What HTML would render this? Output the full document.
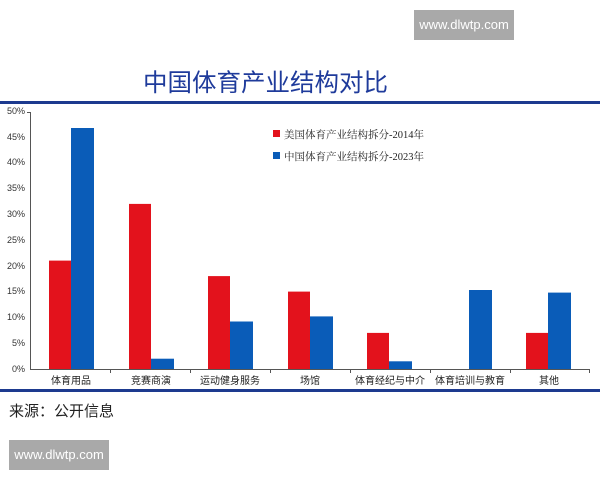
<!DOCTYPE html>
<html><head><meta charset="utf-8"><style>
body{margin:0;width:600px;height:480px;background:#fff;position:relative;overflow:hidden;font-family:"Liberation Sans","Noto Sans CJK SC",sans-serif}
.wm{position:absolute;background:#a9a9a9;color:#fff;font-size:13px;width:100px;height:30px;line-height:30px;text-align:center}
</style></head><body>
<div class="wm" style="left:414px;top:10px">www.dlwtp.com</div>
<div class="wm" style="left:9px;top:440px">www.dlwtp.com</div>
<div style="position:absolute;left:143px;top:64px;font-size:24.5px;color:#1f3b9b;white-space:nowrap">中国体育产业结构对比</div>
<div style="position:absolute;left:0;width:600px;top:101px;height:3px;background:#1d3a8f"></div>
<div style="position:absolute;left:0;width:600px;top:389px;height:3px;background:#1d3a8f"></div>
<div style="position:absolute;left:9px;top:400px;font-size:15px;color:#222">来源：公开信息</div>
<svg style="position:absolute;left:0;top:0" width="600" height="480" font-family="Liberation Sans,Noto Sans CJK SC,sans-serif">
<g font-size="9" fill="#333" text-anchor="end">
<text x="25" y="372">0%</text><text x="25" y="346">5%</text><text x="25" y="320">10%</text><text x="25" y="294">15%</text><text x="25" y="269">20%</text><text x="25" y="243">25%</text><text x="25" y="217">30%</text><text x="25" y="191">35%</text><text x="25" y="165">40%</text><text x="25" y="140">45%</text><text x="25" y="114">50%</text>
</g>
<g stroke="#555" stroke-width="1">
<line x1="30.5" y1="112" x2="30.5" y2="369"/><line x1="27" y1="112.5" x2="30" y2="112.5"/>
<line x1="30" y1="369.5" x2="590" y2="369.5"/>
<line x1="110.5" y1="369" x2="110.5" y2="373"/><line x1="190.5" y1="369" x2="190.5" y2="373"/><line x1="270.5" y1="369" x2="270.5" y2="373"/><line x1="350.5" y1="369" x2="350.5" y2="373"/><line x1="430.5" y1="369" x2="430.5" y2="373"/><line x1="510.5" y1="369" x2="510.5" y2="373"/><line x1="589.5" y1="369" x2="589.5" y2="373"/>
</g>
<g fill="#e3121c">
<rect x="49" y="260.6" width="22" height="108.4"/>
<rect x="129" y="203.9" width="22" height="165.1"/>
<rect x="208" y="276.1" width="22" height="92.9"/>
<rect x="288" y="291.6" width="22" height="77.4"/>
<rect x="367" y="332.9" width="22" height="36.1"/>
<rect x="526" y="332.9" width="22" height="36.1"/>
</g>
<g fill="#0a5cb8">
<rect x="71" y="128" width="23" height="241"/>
<rect x="151" y="358.7" width="23" height="10.3"/>
<rect x="230" y="321.5" width="23" height="47.5"/>
<rect x="310" y="316.4" width="23" height="52.6"/>
<rect x="389" y="361.3" width="23" height="7.7"/>
<rect x="469" y="290" width="23" height="79"/>
<rect x="548" y="292.6" width="23" height="76.4"/>
</g>
<g font-size="10" fill="#222" text-anchor="middle">
<text x="71" y="384">体育用品</text><text x="151" y="384">竞赛商演</text><text x="230" y="384">运动健身服务</text><text x="310" y="384">场馆</text><text x="390" y="384">体育经纪与中介</text><text x="470" y="384">体育培训与教育</text><text x="549" y="384">其他</text>
</g>
<rect x="273" y="130" width="7" height="7" fill="#e3121c"/>
<rect x="273" y="152" width="7" height="7" fill="#0a5cb8"/>
<g font-size="10.5" fill="#222" font-family="Liberation Serif,Noto Serif CJK SC,serif">
<text x="284" y="138">美国体育产业结构拆分-2014年</text>
<text x="284" y="160">中国体育产业结构拆分-2023年</text>
</g>
</svg>
</body></html>
